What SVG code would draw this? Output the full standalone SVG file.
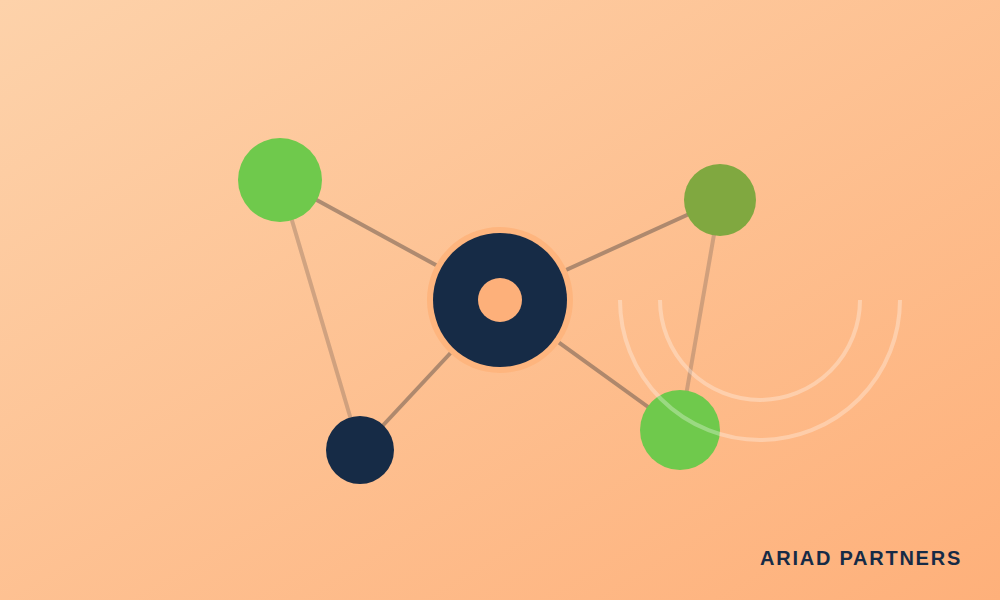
<svg xmlns="http://www.w3.org/2000/svg" width="1000" height="600" viewBox="0 0 1000 600">
<defs>
<linearGradient id="bg" x1="0" y1="0" x2="1" y2="1">
<stop offset="0" stop-color="#FDD2AA"/>
<stop offset="1" stop-color="#FEB07A"/>
</linearGradient>
<style>
.edge{stroke:#7a6456;stroke-opacity:0.6;stroke-width:4;stroke-linecap:round;fill:none}
.edge.light{stroke:#9a7a66;stroke-opacity:0.45}
.arc{fill:none;stroke:#ffffff;stroke-opacity:0.3;stroke-width:4}
.green{fill:#6FC94C}
.navy{fill:#162B46}
.label{font-family:"Liberation Sans",Arial,sans-serif;font-weight:bold;font-size:20px;letter-spacing:1.75px;fill:#162B46}
</style>
</defs>
<rect width="1000" height="600" fill="url(#bg)"/>
<g id="connectors">
<line class="edge" x1="280" y1="180" x2="500" y2="300"/>
<line class="edge light" x1="280" y1="180" x2="360" y2="450"/>
<line class="edge" x1="500" y1="300" x2="720" y2="200"/>
<line class="edge light" x1="720" y1="200" x2="680" y2="430"/>
<line class="edge" x1="500" y1="300" x2="360" y2="450"/>
<line class="edge" x1="500" y1="300" x2="680" y2="430"/>
</g>
<g id="node-hub">
<circle cx="500" cy="300" r="73" fill="#FEB57E"/>
<circle cx="500" cy="300" r="67" class="navy"/>
<circle cx="500" cy="300" r="22" fill="#FDB07A"/>
</g>
<g id="node-topleft"><circle cx="280" cy="180" r="42" class="green"/></g>
<g id="node-topright"><circle cx="720" cy="200" r="36" fill="#80A840"/></g>
<g id="node-bottomleft"><circle cx="360" cy="450" r="34" class="navy"/></g>
<g id="node-bottomright"><circle cx="680" cy="430" r="40" class="green"/></g>
<g id="arcs">
<path class="arc" d="M660 300 A100 100 0 0 0 860 300"/>
<path class="arc" d="M620 300 A140 140 0 0 0 900 300"/>
</g>
<text class="label" x="962" y="565" text-anchor="end">ARIAD PARTNERS</text>
</svg>
